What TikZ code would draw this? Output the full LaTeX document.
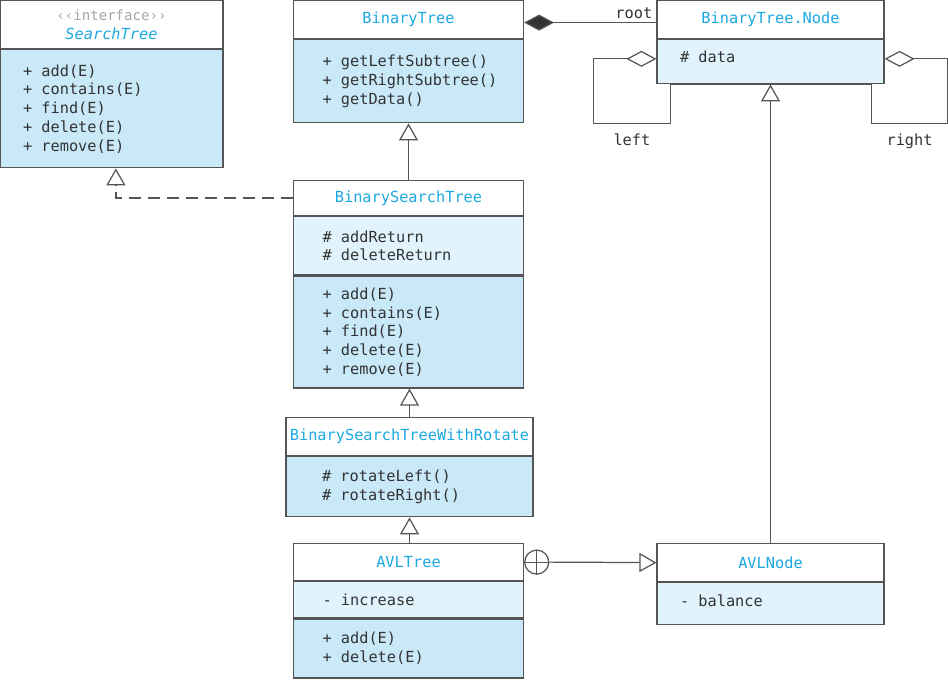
\documentclass[tikz,border=0pt]{standalone}
\usepackage{fontspec}
\setmonofont{DejaVu Sans Mono}
\usetikzlibrary{arrows.meta}

\definecolor{titleblue}{HTML}{1CA8E0}
\definecolor{opfill}{HTML}{C9E9F9}
\definecolor{attfill}{HTML}{E1F4FD}
\definecolor{linegray}{HTML}{555555}
\definecolor{textgray}{HTML}{333333}
\definecolor{stereogray}{HTML}{A5A5A5}

\begin{document}
\begin{tikzpicture}[x=0.02cm, y=-0.02cm,
  every node/.style={font=\ttfamily\fontsize{8.7}{10.7}\selectfont, text=textgray},
  head/.style={draw=linegray, fill=white, line width=0.7pt, anchor=north,
    align=center, inner sep=0pt, text=titleblue, minimum width=#1},
  field/.style 2 args={draw=linegray, fill=#1, line width=0.7pt, anchor=north,
    align=left, inner sep=0pt, text width=#2},
  lpad/.style={execute at begin node={\leftskip=#1\spaceskip=0pt\xspaceskip=0pt}},
  gen/.style={draw=linegray, line width=0.7pt,
    -{Triangle[open, length=0.34cm, width=0.38cm]}},
  real/.style={gen, dash pattern=on 6.8pt off 4pt},
  owns/.style={draw=linegray, line width=0.7pt,
    {Diamond[length=0.6cm, width=0.32cm, fill=textgray]}-},
  hasa/.style={draw=linegray, line width=0.7pt,
    {Diamond[open, length=0.6cm, width=0.32cm]}-},
  ]
  \useasboundingbox (0,0) rectangle (948,683);

  % interface
  \node[head=4.46cm, minimum height=0.96cm] (st) at (111.5,0)
    {{\color{stereogray}\fontsize{8}{10.7}\selectfont ‹‹interface››}\\\textit{SearchTree}};
  \node[field={opfill}{4.46cm}, lpad=0.46cm, minimum height=2.36cm] (st-ops) at (st.south)
    {+ add(E)\\+ contains(E)\\+ find(E)\\+ delete(E)\\+ remove(E)};

  % binary tree
  \node[head=4.6cm, minimum height=0.76cm] (bt) at (408.5,0) {BinaryTree};
  \node[field={opfill}{4.6cm}, lpad=0.58cm, minimum height=1.66cm] (bt-ops) at (bt.south)
    {+ getLeftSubtree()\\+ getRightSubtree()\\+ getData()};

  \node[head=4.54cm, minimum height=0.76cm] (nd) at (770.5,0) {BinaryTree.Node};
  \node[field={attfill}{4.54cm}, lpad=0.46cm, minimum height=0.88cm, text depth=6pt] (nd-att) at (nd.south)
    {\# data};

  % search trees
  \node[head=4.6cm, minimum height=0.7cm] (bst) at (408.5,180) {BinarySearchTree};
  \node[field={attfill}{4.6cm}, lpad=0.58cm, minimum height=1.16cm] (bst-att) at (bst.south)
    {\# addReturn\\\# deleteReturn};
  \node[field={opfill}{4.6cm}, lpad=0.58cm, minimum height=2.24cm] (bst-ops) at (bst-att.south)
    {+ add(E)\\+ contains(E)\\+ find(E)\\+ delete(E)\\+ remove(E)};

  \node[head=4.94cm, minimum height=0.76cm] (bstr) at (409.5,417) {BinarySearchTreeWithRotate};
  \node[field={opfill}{4.94cm}, lpad=0.72cm, minimum height=1.2cm] (bstr-ops) at (bstr.south)
    {\# rotateLeft()\\\# rotateRight()};

  \node[head=4.6cm, minimum height=0.74cm] (avl) at (408.5,543) {AVLTree};
  \node[field={attfill}{4.6cm}, lpad=0.58cm, minimum height=0.72cm] (avl-att) at (avl.south)
    {- increase};
  \node[field={opfill}{4.6cm}, lpad=0.58cm, minimum height=1.18cm] (avl-ops) at (avl-att.south)
    {+ add(E)\\+ delete(E)};

  \node[head=4.54cm, minimum height=0.76cm] (avln) at (770.5,543) {AVLNode};
  \node[field={attfill}{4.54cm}, lpad=0.46cm, minimum height=0.84cm, text depth=4pt] (avln-att) at (avln.south)
    {- balance};

  % relations
  \draw[owns] ([yshift=-1.7pt]bt.east) -- ([yshift=-1.7pt]nd.west)
    node[pos=1, above left, inner sep=2pt] (lbl-root) {root};
  \draw[hasa] ([yshift=1.7pt]nd-att.west) -- ++(-63,0) -- ++(0,65)
    -- ++(77,0) node[midway, below=2pt] (lbl-left) {left} |- (nd-att.south);
  \draw[hasa] ([yshift=1.7pt]nd-att.east) -- ++(63,0) -- ++(0,65)
    -- ++(-76,0) node[midway, below=2pt] (lbl-right) {right} |- (nd-att.south);

  \draw[gen] (bst.north) -- (bt-ops.south);
  \draw[real] (bst.west) -| ([xshift=2.5pt]st-ops.south);
  \draw[gen] (bstr.north) -- (bstr.north |- bst-ops.south);
  \draw[gen] (avl.north -| bstr-ops.south) -- (bstr-ops.south);
  \draw[gen] (avln.north) -- (nd-att.south);

  \node[draw=linegray, line width=0.7pt, circle, minimum size=0.48cm, inner sep=0pt,
    anchor=west] (nest) at (avl.east) {};
  \draw[linegray, line width=0.7pt] (nest.north) -- (nest.south) (nest.west) -- (nest.east);
  \draw[gen] (nest.east) -- (avln.west);
\end{tikzpicture}
\end{document}
